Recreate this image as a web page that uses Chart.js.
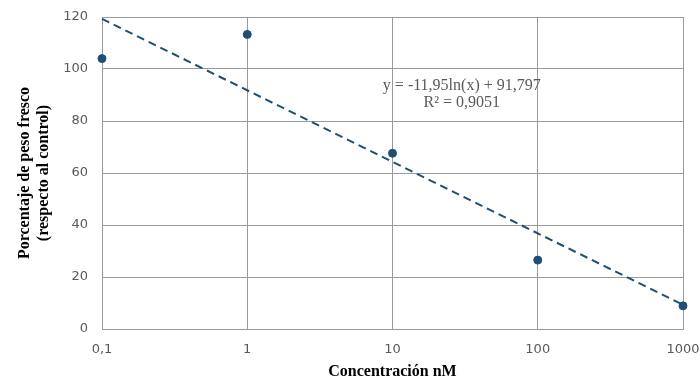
<!DOCTYPE html>
<html>
<head>
<meta charset="utf-8">
<script src="https://cdn.jsdelivr.net/npm/chart.js@4/dist/chart.umd.min.js"></script>
<style>
html,body{margin:0;padding:0;background:#fff;}
#wrap{width:700px;height:381px;position:relative;}
</style>
</head>
<body>
<div id="wrap"><canvas id="c" width="700" height="381"></canvas></div>
<script>
const concentrations = [0.1, 1, 10, 100, 1000];
const pesoFresco = [104, 113.3, 67.6, 26.5, 8.9];
const trendX = [0.1, 1000];
const trendY = [119.3, 9.3];
const xTickValues = [0.1, 1, 10, 100, 1000];
const xTickLabels = ["0,1", "1", "10", "100", "1000"];
const yTickValues = [0, 20, 40, 60, 80, 100, 120];
const equationLines = ["y = -11,95ln(x) + 91,797", "R\u00B2 = 0,9051"];

const gridColor = "#9a9a9a";
const tickColor = "#595959";
const markColor = "#1f4e79";

const annotationPlugin = {
  id: "eqLabel",
  afterDatasetsDraw(chart) {
    const ctx = chart.ctx;
    const xs = chart.scales.x, ys = chart.scales.y;
    const cx = xs.getPixelForValue(30);
    const y0 = ys.getPixelForValue(93.5);
    ctx.save();
    ctx.font = "16px 'Liberation Serif', serif";
    ctx.fillStyle = "#595959";
    ctx.textAlign = "center";
    ctx.textBaseline = "middle";
    ctx.fillText(equationLines[0], cx, y0);
    ctx.fillText(equationLines[1], cx, y0 + 17);
    ctx.restore();
  }
};

new Chart(document.getElementById("c"), {
  type: "scatter",
  data: {
    datasets: [
      {
        label: "Tendencia",
        type: "line",
        data: trendX.map((x, i) => ({x: x, y: trendY[i]})),
        borderColor: markColor,
        borderWidth: 2,
        borderDash: [8, 5],
        pointRadius: 0,
        fill: false,
        clip: false
      },
      {
        label: "Porcentaje",
        data: concentrations.map((x, i) => ({x: x, y: pesoFresco[i]})),
        backgroundColor: markColor,
        borderColor: markColor,
        pointRadius: 4,
        pointHoverRadius: 4,
        clip: false
      }
    ]
  },
  options: {
    responsive: false,
    animation: false,
    events: [],
    layout: {padding: {left: 0, right: 17, top: 17, bottom: 0}},
    plugins: {legend: {display: false}, tooltip: {enabled: false}},
    scales: {
      x: {
        type: "logarithmic",
        min: 0.1,
        max: 1000,
        afterBuildTicks(scale) {
          scale.ticks = xTickValues.map(v => ({value: v}));
        },
        afterFit(scale) { scale.height = 52; scale.paddingRight = 0; scale.paddingLeft = 0; },
        ticks: {
          color: tickColor,
          font: {family: "'DejaVu Sans', sans-serif", size: 13},
          padding: 13,
          callback: function(value) {
            const i = xTickValues.findIndex(v => Math.abs(v - value) < 1e-9 * Math.max(1, v));
            return i >= 0 ? xTickLabels[i] : "";
          },
          autoSkip: false,
          maxRotation: 0
        },
        grid: {color: gridColor, lineWidth: 1, drawTicks: false},
        border: {color: gridColor, width: 1},
        title: {
          display: true,
          text: "Concentración nM",
          color: "#000",
          font: {family: "'Liberation Serif', serif", size: 16, weight: "bold"},
          padding: {top: 6, bottom: 0}
        }
      },
      y: {
        min: 0,
        max: 120,
        afterBuildTicks(scale) {
          scale.ticks = yTickValues.map(v => ({value: v}));
        },
        afterFit(scale) { scale.width = 102; scale.paddingTop = 0; scale.paddingBottom = 0; },
        ticks: {
          color: tickColor,
          font: {family: "'DejaVu Sans', sans-serif", size: 13},
          padding: 14
        },
        grid: {color: gridColor, lineWidth: 1, drawTicks: false},
        border: {color: gridColor, width: 1},
        title: {
          display: true,
          text: ["Porcentaje de peso fresco", "(respecto al control)"],
          color: "#000",
          font: {family: "'Liberation Serif', serif", size: 16, weight: "bold", lineHeight: 1.2},
          padding: {top: 15, bottom: 0}
        }
      }
    }
  },
  plugins: [annotationPlugin]
});
</script>
</body>
</html>
